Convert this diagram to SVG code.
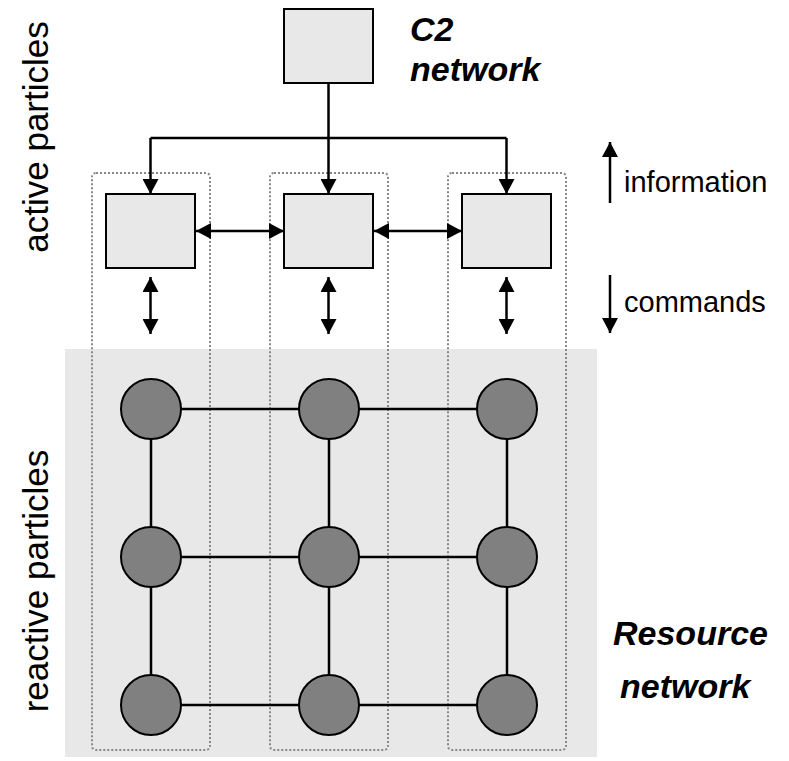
<svg xmlns="http://www.w3.org/2000/svg" width="789" height="761" viewBox="0 0 789 761">
<style>
.box{fill:#e8e8e8;stroke:#000;stroke-width:2}
.res{fill:#808080;stroke:#000;stroke-width:2}
.dot{fill:none;stroke:#888;stroke-width:2;stroke-dasharray:2 2}
.ln{stroke:#000;stroke-width:2.5;fill:none}
.arr{stroke:#000;stroke-width:2.5;fill:none;marker-end:url(#ah)}
.dbl{stroke:#000;stroke-width:2.5;fill:none;marker-end:url(#ah);marker-start:url(#ah)}
.lbl{font-family:"Liberation Sans",Arial,sans-serif;fill:#000}
.bi{font-family:"Liberation Sans",Arial,sans-serif;font-weight:bold;font-style:italic;font-size:34px;fill:#000}
</style>
<defs>
<marker id="ah" markerUnits="userSpaceOnUse" markerWidth="16" markerHeight="16" refX="15" refY="8" orient="auto-start-reverse" viewBox="0 0 16 16">
<path d="M0,0 L15,8 L0,16 z" fill="#000"/>
</marker>
</defs>
<rect id="resource-area" x="65" y="349" width="532" height="408" fill="#e8e8e8"/>
<g id="columns">
<rect class="dot" x="92" y="173" width="118" height="577" rx="4"/>
<rect class="dot" x="270" y="173" width="118" height="577" rx="4"/>
<rect class="dot" x="448" y="173" width="118" height="577" rx="4"/>
</g>
<g id="connectors">
<line class="ln" x1="328.5" y1="83" x2="328.5" y2="138"/>
<line class="ln" x1="150.5" y1="138" x2="506.5" y2="138"/>
<line class="arr" x1="150.5" y1="138" x2="150.5" y2="194"/>
<line class="arr" x1="328.5" y1="138" x2="328.5" y2="194"/>
<line class="arr" x1="506.5" y1="138" x2="506.5" y2="194"/>
<line class="dbl" x1="196" y1="231" x2="284" y2="231"/>
<line class="dbl" x1="374" y1="231" x2="462" y2="231"/>
<line class="dbl" x1="150.5" y1="277" x2="150.5" y2="334"/>
<line class="dbl" x1="328.5" y1="277" x2="328.5" y2="334"/>
<line class="dbl" x1="506.5" y1="277" x2="506.5" y2="334"/>
<line class="ln" x1="180" y1="409" x2="299" y2="409"/>
<line class="ln" x1="358" y1="409" x2="477" y2="409"/>
<line class="ln" x1="180" y1="557" x2="299" y2="557"/>
<line class="ln" x1="358" y1="557" x2="477" y2="557"/>
<line class="ln" x1="180" y1="705" x2="299" y2="705"/>
<line class="ln" x1="358" y1="705" x2="477" y2="705"/>
<line class="ln" x1="151" y1="439" x2="151" y2="527"/>
<line class="ln" x1="151" y1="587" x2="151" y2="675"/>
<line class="ln" x1="329" y1="439" x2="329" y2="527"/>
<line class="ln" x1="329" y1="587" x2="329" y2="675"/>
<line class="ln" x1="507" y1="439" x2="507" y2="527"/>
<line class="ln" x1="507" y1="587" x2="507" y2="675"/>
<line class="arr" x1="610" y1="203" x2="610" y2="142"/>
<line class="arr" x1="610" y1="275" x2="610" y2="333"/>
</g>
<g id="c2"><rect class="box" x="284" y="9" width="89" height="74"/></g>
<g id="active1"><rect class="box" x="106" y="194" width="89" height="74"/></g>
<g id="active2"><rect class="box" x="284" y="194" width="89" height="74"/></g>
<g id="active3"><rect class="box" x="462" y="194" width="89" height="74"/></g>
<g id="r11"><circle class="res" cx="151" cy="409" r="30"/></g>
<g id="r12"><circle class="res" cx="329" cy="409" r="30"/></g>
<g id="r13"><circle class="res" cx="507" cy="409" r="30"/></g>
<g id="r21"><circle class="res" cx="151" cy="557" r="30"/></g>
<g id="r22"><circle class="res" cx="329" cy="557" r="30"/></g>
<g id="r23"><circle class="res" cx="507" cy="557" r="30"/></g>
<g id="r31"><circle class="res" cx="151" cy="705" r="30"/></g>
<g id="r32"><circle class="res" cx="329" cy="705" r="30"/></g>
<g id="r33"><circle class="res" cx="507" cy="705" r="30"/></g>
<g id="labels">
<text class="bi" x="410" y="41">C2</text>
<text class="bi" x="410" y="81">network</text>
<text class="bi" x="613" y="645">Resource</text>
<text class="bi" x="620" y="698">network</text>
<text class="lbl" x="624" y="192" font-size="29">information</text>
<text class="lbl" x="624" y="312" font-size="29">commands</text>
<text class="lbl" font-size="35" text-anchor="middle" transform="translate(48,137) rotate(-90)">active particles</text>
<text class="lbl" font-size="35" text-anchor="middle" transform="translate(48,581) rotate(-90)">reactive particles</text>
</g>
</svg>
